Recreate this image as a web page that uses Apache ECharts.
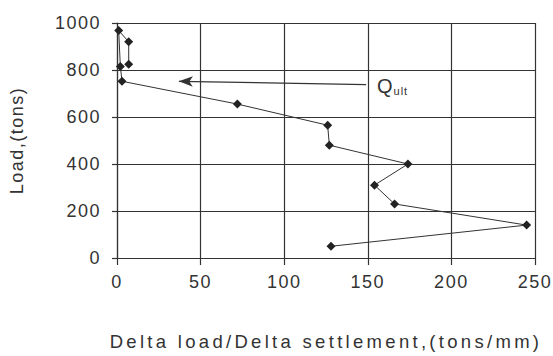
<!DOCTYPE html>
<html>
<head>
<meta charset="utf-8">
<script src="https://cdn.jsdelivr.net/npm/echarts@6/dist/echarts.min.js"></script>
<style>
  html, body { margin: 0; padding: 0; background: #ffffff; }
  #chart { width: 553px; height: 356px; }
</style>
</head>
<body>
<div id="chart"></div>
<script>
// Load test: stiffness (delta load / delta settlement) against load
const stiffness = [128, 245, 166, 154, 174, 127, 126, 72, 3, 2, 1, 7, 7];
const loads     = [50, 140, 230, 310, 400, 480, 565, 655, 752, 815, 968, 920, 825];

// Ultimate load pointer (tail -> head), in data units
const qultArrowX = [149, 37];
const qultArrowY = [738, 752];

const xTicks = [0, 50, 100, 150, 200, 250];
const yTicks = [0, 200, 400, 600, 800, 1000];

const xTitle = 'Delta load/Delta settlement,(tons/mm)';
const yTitle = 'Load,(tons)';

const ink = '#333';
const font = 'Liberation Sans, Arial, sans-serif';

const chart = echarts.init(document.getElementById('chart'), null, { renderer: 'svg' });
chart.setOption({
  backgroundColor: '#ffffff',
  animation: false,
  grid: { left: 116, right: 17, top: 23, bottom: 98 },
  xAxis: {
    type: 'value',
    min: xTicks[0], max: xTicks[xTicks.length - 1], interval: 50,
    name: xTitle,
    nameLocation: 'middle', nameGap: 74,
    nameTextStyle: { fontSize: 18.5, color: ink, fontFamily: font },
    axisLine: { show: true, lineStyle: { color: ink, width: 1.2 } },
    axisTick: { show: true, length: 7, lineStyle: { color: ink, width: 1.2 } },
    axisLabel: { fontSize: 18, color: ink, fontFamily: font, margin: 15 },
    splitLine: { show: true, lineStyle: { color: ink, width: 1.2 } }
  },
  yAxis: {
    type: 'value',
    min: yTicks[0], max: yTicks[yTicks.length - 1], interval: 200,
    name: yTitle,
    nameLocation: 'middle', nameGap: 91, nameRotate: 90,
    nameTextStyle: { fontSize: 18, color: ink, fontFamily: font },
    axisLine: { show: true, lineStyle: { color: ink, width: 1.2 } },
    axisTick: { show: true, length: 5, lineStyle: { color: ink, width: 1.2 } },
    axisLabel: { fontSize: 18, color: ink, fontFamily: font, margin: 16,
                 formatter: v => String(v) },
    splitLine: { show: true, lineStyle: { color: ink, width: 1.2 } }
  },
  series: [
    {
      type: 'line',
      data: stiffness.map((s, i) => [s, loads[i]]),
      symbol: 'diamond',
      symbolSize: 9,
      lineStyle: { color: ink, width: 1 },
      itemStyle: { color: '#222' }
    },
    {
      type: 'line',
      data: [],
      markLine: {
        silent: true,
        symbol: ['none', 'arrow'],
        symbolSize: [8, 14],
        lineStyle: { color: ink, width: 1.2, type: 'solid' },
        label: { show: false },
        data: [[
          { coord: [qultArrowX[0], qultArrowY[0]] },
          { coord: [qultArrowX[1], qultArrowY[1]] }
        ]]
      }
    }
  ],
  graphic: [
    {
      type: 'text',
      left: 377, top: 76,
      style: {
        text: '{q|Q}{s|ult}',
        rich: {
          q: { fontSize: 20, fill: ink, fontFamily: font },
          s: { fontSize: 11, fill: ink, fontFamily: font, padding: [10, 0, 0, 1] }
        }
      }
    }
  ]
});

// Spread the lettering the way the printed figure sets it
function spaceLetters() {
  document.querySelectorAll('#chart text').forEach(t => {
    const s = t.textContent;
    let ls = '1.5px';
    if (s === xTitle) ls = '3.3px';
    else if (s === 'Q' || s === 'ult') ls = '1px';
    t.setAttribute('letter-spacing', ls);
    t.style.letterSpacing = ls;
  });
}
spaceLetters();
chart.on('finished', spaceLetters);
</script>
</body>
</html>
